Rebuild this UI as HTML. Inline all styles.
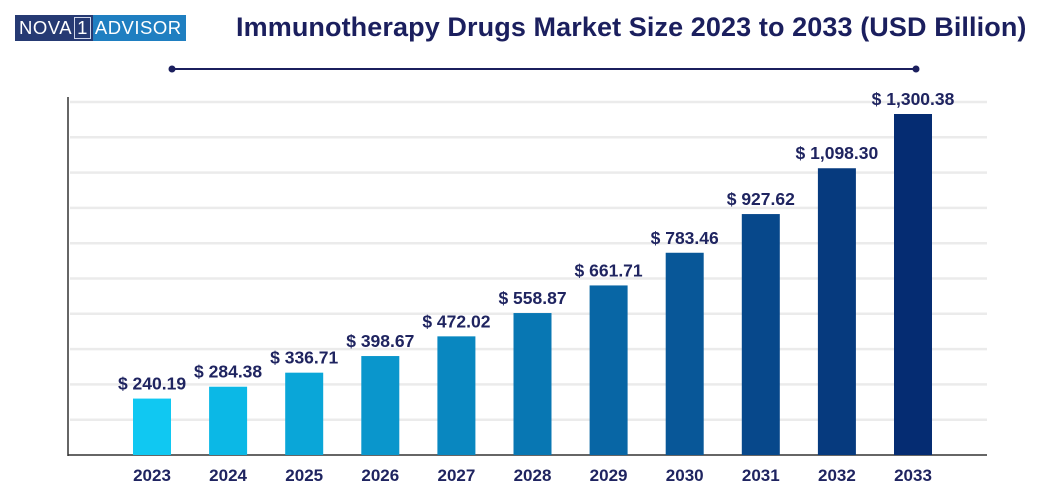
<!DOCTYPE html>
<html><head><meta charset="utf-8"><style>
html,body{margin:0;padding:0;background:#fff;}
body{width:1038px;height:490px;overflow:hidden;position:relative;font-family:"Liberation Sans",Arial,sans-serif;}
.logo{position:absolute;left:15px;top:15px;height:26px;display:flex;font-size:18.5px;color:#fff;letter-spacing:0.5px;}
.logo .a{background:#263a73;padding:0 2px 0 4px;line-height:26px;}
.logo .b{background:#1f7fc1;padding:0 4px 0 2px;line-height:26px;}
.logo .one{display:inline-block;border:1px solid #cfd6ea;line-height:20px;padding:0 2px;margin-left:2px;}
.title{position:absolute;left:236px;top:12px;font-size:27px;font-weight:bold;color:#1b1f5e;white-space:nowrap;letter-spacing:0.1px;}
</style></head><body>
<div class="logo"><span class="a">NOVA<span class="one">1</span></span><span class="b">ADVISOR</span></div>
<div class="title">Immunotherapy Drugs Market Size 2023 to 2033 (USD Billion)</div>
<svg id="chart" width="1038" height="490" style="position:absolute;left:0;top:0">
<line x1="172" y1="69" x2="916" y2="69" stroke="#1b1f5e" stroke-width="2"/>
<circle cx="172" cy="69" r="3.5" fill="#1b1f5e"/>
<circle cx="916" cy="69" r="3.5" fill="#1b1f5e"/>
</svg>
<script>
const categories=["2023","2024","2025","2026","2027","2028","2029","2030","2031","2032","2033"];
const values=[240.19,284.38,336.71,398.67,472.02,558.87,661.71,783.46,927.62,1098.30,1300.38];
const valueLabels=["$ 240.19","$ 284.38","$ 336.71","$ 398.67","$ 472.02","$ 558.87","$ 661.71","$ 783.46","$ 927.62","$ 1,098.30","$ 1,300.38"];
const yMin=30;
const yMax=1360;
const svg=document.getElementById('chart');
const NS='http://www.w3.org/2000/svg';
const x0=68,x1=987,yBase=455,yTop=98;
const colors=["#10c8f2","#0bb8e6","#0aa6d8","#0a96cc","#0987c0","#0877b3","#0866a5","#085798","#07488b","#063a7e","#052c72"];
function y(v){return yBase-((v-yMin)/(yMax-yMin))*(yBase-yTop);}
function xc(i){return 152+i*76.1;}
function mk(t,a){const e=document.createElementNS(NS,t);for(const k in a)e.setAttribute(k,a[k]);svg.appendChild(e);return e;}
for(let g=0;g<10;g++){
 const gy=102+g*35.3;
 const l=mk('line',{x1:x0+2,x2:x1,y1:gy,y2:gy,stroke:'#ebebeb','stroke-width':2.5});
 
 
}
const ya=mk('line',{x1:x0,x2:x0,y1:97,y2:yBase+1,stroke:'#333','stroke-width':1.5});


const xa=mk('line',{x1:x0,x2:x1,y1:yBase,y2:yBase,stroke:'#333','stroke-width':1.5});


categories.forEach((c,i)=>{
 const top=y(values[i]);
 const r=mk('rect',{x:xc(i)-19,y:top,width:38,height:yBase-top,fill:colors[i]});
 
 
 const t=mk('text',{x:xc(i),y:top-9,'text-anchor':'middle','font-size':17.5,'font-weight':'bold',fill:'#1f2460','font-family':'Liberation Sans, Arial, sans-serif'});
 t.textContent=valueLabels[i];
 
 
 const xl=mk('text',{x:xc(i),y:481,'text-anchor':'middle','font-size':17,'font-weight':'bold',fill:'#1f2460','font-family':'Liberation Sans, Arial, sans-serif'});
 xl.textContent=c;
 
 
});
</script>
</body></html>
